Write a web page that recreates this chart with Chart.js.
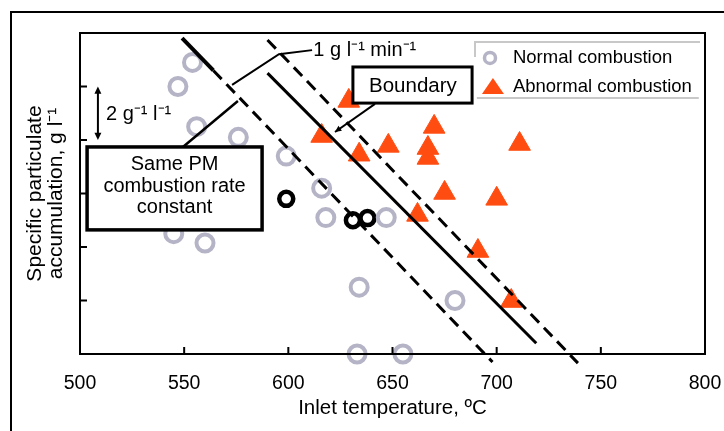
<!DOCTYPE html>
<html>
<head>
<meta charset="utf-8">
<title>Inlet temperature vs PM accumulation</title>
<script src="https://cdn.jsdelivr.net/npm/chart.js@4.4.0/dist/chart.umd.min.js"></script>
<style>
  html, body { margin: 0; padding: 0; background: #fff; }
  #wrap { width: 724px; height: 431px; }
</style>
</head>
<body>
<div id="wrap"><canvas id="chart" width="724" height="431"></canvas></div>
<script>
// Data (x: inlet temperature in degC, y: specific PM accumulation in g/l)
const normalTemp = [554, 547, 556, 576, 599, 616, 618, 647, 545, 560, 634, 680, 633, 655];
const normalAcc  = [10.9, 10.0, 8.5, 8.1, 7.4, 6.2, 5.1, 5.1, 4.5, 4.15, 2.5, 2.0, 0, 0];

const abnormalTemp = [629, 616, 634, 648, 670, 667, 667, 711, 675, 700, 662, 691, 707];
const abnormalAcc  = [9.46, 8.15, 7.45, 7.78, 8.49, 7.70, 7.33, 7.85, 6.02, 5.80, 5.20, 3.85, 1.98];

// highlighted (black) normal points
const markedTemp = [599, 631, 638];
const markedAcc  = [5.8, 5.0, 5.08];

// same PM combustion rate lines
const lowerLineTemp = [549, 564, 698];
const lowerLineAcc  = [11.81, 10.6, -0.3];
const boundaryTemp  = [590, 719];
const boundaryAcc   = [10.5, 0.4];
const upperLineTemp = [590, 739];
const upperLineAcc  = [11.74, -0.34];

const xTicks = [500, 550, 600, 650, 700, 750, 800];
const yTicks = [0, 2, 4, 6, 8, 10, 12];

const FONT = '"Liberation Sans", Arial, sans-serif';
const GREY = '#b4b4c6';
const ORANGE = '#ff4d12';

function toPoints(xs, ys) {
    return xs.map((v, i) => ({ x: v, y: ys[i] }));
}

function arrowHead(ctx, x0, y0, x1, y1, size) {
    const ang = Math.atan2(y1 - y0, x1 - x0);
    ctx.beginPath();
    ctx.moveTo(x1, y1);
    ctx.lineTo(x1 - size * Math.cos(ang - 0.45), y1 - size * Math.sin(ang - 0.45));
    ctx.lineTo(x1 - size * Math.cos(ang + 0.45), y1 - size * Math.sin(ang + 0.45));
    ctx.closePath();
    ctx.fill();
}

// Frame, inward ticks, labels, boxes and legend
const annotations = {
    id: 'annotations',
    afterDatasetsDraw(chart) {
        const { ctx, chartArea: a } = chart;
        const px = v => chart.scales.x.getPixelForValue(v);
        const py = v => chart.scales.y.getPixelForValue(v);

        ctx.save();
        ctx.strokeStyle = '#000';
        ctx.fillStyle = '#000';

        // plot frame
        ctx.lineWidth = 2;
        ctx.strokeRect(a.left, a.top, a.right - a.left, a.bottom - a.top);

        // inward tick marks
        ctx.beginPath();
        xTicks.slice(1, -1).forEach(v => {
            ctx.moveTo(px(v), a.bottom);
            ctx.lineTo(px(v), a.bottom - 7);
        });
        yTicks.slice(1, -1).forEach(v => {
            ctx.moveTo(a.left, py(v));
            ctx.lineTo(a.left + 7, py(v));
        });
        ctx.stroke();

        ctx.font = '20px ' + FONT;
        ctx.textBaseline = 'middle';

        // 1 g l-1 min-1 spacing marker
        ctx.lineWidth = 2;
        ctx.beginPath();
        ctx.moveTo(px(573), py(10.06));
        ctx.lineTo(px(595.5), py(11.21));
        ctx.lineTo(px(611.4), py(11.36));
        ctx.stroke();
        ctx.textAlign = 'left';
        ctx.fillText('1 g l\u207B\u00B9 min\u207B\u00B9', px(612), py(11.33));

        // 2 g l-1 double arrow
        ctx.lineWidth = 2;
        ctx.beginPath();
        ctx.moveTo(px(508.6), py(9.8));
        ctx.lineTo(px(508.6), py(8.2));
        ctx.stroke();
        arrowHead(ctx, px(508.6), py(9), px(508.6), py(10), 8);
        arrowHead(ctx, px(508.6), py(9), px(508.6), py(8), 8);
        ctx.fillText('2 g\u207B\u00B9 l\u207B\u00B9', px(512.5), py(8.95));

        // "Same PM combustion rate constant" box
        ctx.lineWidth = 2.5;
        ctx.beginPath();
        ctx.moveTo(px(549.4), py(7.74));
        ctx.lineTo(px(575.8), py(9.46));
        ctx.stroke();
        const b1 = { x1: px(503.4), x2: px(587.4), y1: py(7.74), y2: py(4.64) };
        ctx.fillStyle = '#fff';
        ctx.fillRect(b1.x1, b1.y1, b1.x2 - b1.x1, b1.y2 - b1.y1);
        ctx.lineWidth = 3.5;
        ctx.strokeRect(b1.x1, b1.y1, b1.x2 - b1.x1, b1.y2 - b1.y1);
        ctx.fillStyle = '#000';
        ctx.textAlign = 'center';
        ctx.fillText('Same PM', px(545.4), py(7.10));
        ctx.fillText('combustion rate', px(545.4), py(6.28));
        ctx.fillText('constant', px(545.4), py(5.46));

        // "Boundary" box
        ctx.lineWidth = 2;
        ctx.beginPath();
        ctx.moveTo(px(641.6), py(9.35));
        ctx.lineTo(px(622.4), py(8.30));
        ctx.stroke();
        arrowHead(ctx, px(641.6), py(9.35), px(622.4), py(8.30), 7);
        const b2 = { x1: px(631), x2: px(688.2), y1: py(10.73), y2: py(9.38) };
        ctx.fillStyle = '#fff';
        ctx.fillRect(b2.x1, b2.y1, b2.x2 - b2.x1, b2.y2 - b2.y1);
        ctx.lineWidth = 3;
        ctx.strokeRect(b2.x1, b2.y1, b2.x2 - b2.x1, b2.y2 - b2.y1);
        ctx.fillStyle = '#000';
        ctx.font = '20.5px ' + FONT;
        ctx.fillText('Boundary', px(659.8), py(10.02));

        // legend
        ctx.strokeStyle = '#c8c8c8';
        ctx.lineWidth = 2;
        ctx.beginPath();
        ctx.moveTo(px(689.6), py(11.1));
        ctx.lineTo(px(689.6), py(11.66));
        ctx.lineTo(px(797.6), py(11.66));
        ctx.moveTo(px(690.5), py(9.57));
        ctx.lineTo(px(797), py(9.57));
        ctx.stroke();

        ctx.strokeStyle = GREY;
        ctx.lineWidth = 3.5;
        ctx.beginPath();
        ctx.arc(px(696.8), py(11.07), 5.5, 0, Math.PI * 2);
        ctx.stroke();

        const tx = px(698.2), ty = py(9.98);
        ctx.fillStyle = ORANGE;
        ctx.beginPath();
        ctx.moveTo(tx, ty - 9);
        ctx.lineTo(tx + 11, ty + 7);
        ctx.lineTo(tx - 11, ty + 7);
        ctx.closePath();
        ctx.fill();

        ctx.fillStyle = '#000';
        ctx.font = '18.5px ' + FONT;
        ctx.textAlign = 'left';
        ctx.fillText('Normal combustion', px(707.8), py(11.07));
        ctx.fillText('Abnormal combustion', px(707.8), py(9.98));

        ctx.restore();
    },
    afterDraw(chart) {
        // outer figure frame (top and left edges)
        const ctx = chart.ctx;
        ctx.save();
        ctx.strokeStyle = '#000';
        ctx.lineWidth = 2;
        ctx.beginPath();
        ctx.moveTo(11, 431);
        ctx.lineTo(11, 12);
        ctx.lineTo(724, 12);
        ctx.stroke();
        ctx.restore();
    }
};

const whiteBackground = {
    id: 'whiteBackground',
    beforeDraw(chart) {
        const ctx = chart.ctx;
        ctx.save();
        ctx.fillStyle = '#fff';
        ctx.fillRect(0, 0, chart.width, chart.height);
        ctx.restore();
    }
};

const lineBase = {
    type: 'line',
    showLine: true,
    pointRadius: 0,
    borderColor: '#000',
    borderWidth: 3,
    fill: false,
    clip: false,
    order: 1
};

new Chart(document.getElementById('chart'), {
    type: 'scatter',
    data: {
        datasets: [
            {
                label: 'Normal combustion',
                data: toPoints(normalTemp, normalAcc),
                pointStyle: 'circle',
                pointRadius: 8.5,
                pointBorderWidth: 4,
                borderColor: GREY,
                backgroundColor: 'rgba(255,255,255,0)',
                clip: false,
                order: 2
            },
            {
                label: 'Abnormal combustion',
                data: toPoints(abnormalTemp, abnormalAcc),
                pointStyle: 'triangle',
                pointRadius: 12.5,
                pointBorderWidth: 1,
                borderColor: ORANGE,
                backgroundColor: ORANGE,
                clip: false,
                order: 2
            },
            {
                label: 'Marked',
                data: toPoints(markedTemp, markedAcc),
                pointStyle: 'circle',
                pointRadius: 7,
                pointBorderWidth: 4.5,
                borderColor: '#000',
                backgroundColor: 'rgba(255,255,255,0)',
                clip: false,
                order: 2
            },
            Object.assign({}, lineBase, {
                label: 'Lower rate line',
                data: toPoints(lowerLineTemp, lowerLineAcc),
                segment: {
                    borderDash: c => c.p0DataIndex === 0 ? [] : [12, 7],
                    borderWidth: c => c.p0DataIndex === 0 ? 4 : 3
                }
            }),
            Object.assign({}, lineBase, {
                label: 'Boundary',
                data: toPoints(boundaryTemp, boundaryAcc)
            }),
            Object.assign({}, lineBase, {
                label: 'Upper rate line',
                data: toPoints(upperLineTemp, upperLineAcc),
                borderDash: [12, 7]
            })
        ]
    },
    options: {
        responsive: false,
        animation: false,
        events: [],
        layout: {
            padding: { left: 12, right: 19, top: 33, bottom: 0 }
        },
        scales: {
            x: {
                type: 'linear',
                min: 500,
                max: 800,
                afterBuildTicks: scale => {
                    scale.ticks = xTicks.map(v => ({ value: v }));
                },
                afterFit: scale => {
                    scale.height = 77;
                    scale.paddingLeft = 0;
                    scale.paddingRight = 0;
                },
                grid: { display: false, drawTicks: false },
                border: { display: false },
                ticks: {
                    color: '#000',
                    padding: 18,
                    maxRotation: 0,
                    font: { family: FONT, size: 19.5 }
                },
                title: {
                    display: true,
                    text: 'Inlet temperature, \u00BAC',
                    color: '#000',
                    padding: { top: 0, bottom: 10 },
                    font: { family: FONT, size: 20.5 }
                }
            },
            y: {
                type: 'linear',
                min: 0,
                max: 12,
                afterBuildTicks: scale => {
                    scale.ticks = yTicks.map(v => ({ value: v }));
                },
                afterFit: scale => {
                    scale.width = 68;
                },
                grid: { display: false, drawTicks: false },
                border: { display: false },
                ticks: { display: false },
                title: {
                    display: true,
                    text: ['Specific particulate', 'accumulation, g l\u207B\u00B9'],
                    color: '#000',
                    padding: { top: 12.5, bottom: 0 },
                    font: { family: FONT, size: 21, lineHeight: 1.0 }
                }
            }
        },
        plugins: {
            legend: { display: false },
            tooltip: { enabled: false }
        }
    },
    plugins: [whiteBackground, annotations]
});
</script>
</body>
</html>
